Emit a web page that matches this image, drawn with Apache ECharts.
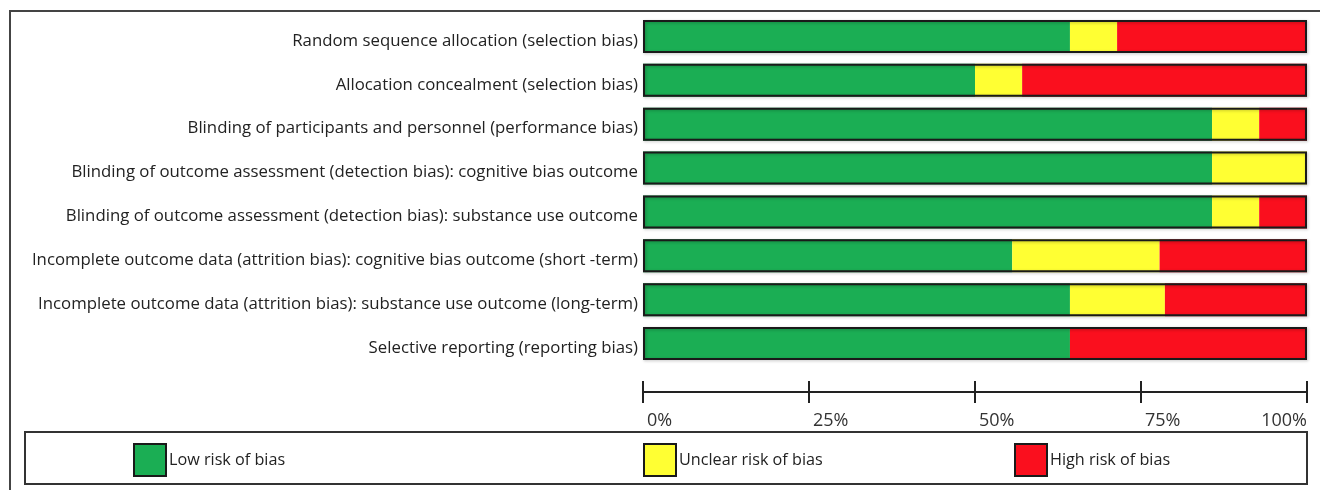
<!DOCTYPE html>
<html>
<head>
<meta charset="utf-8">
<script src="https://cdn.jsdelivr.net/npm/echarts@6/dist/echarts.min.js"></script>
<style>
html,body{margin:0;padding:0;background:#fff;}
#chart{width:1320px;height:490px;}
</style>
</head>
<body>
<div id="chart"></div>
<script>
const categories = [
  "Random sequence allocation (selection bias)",
  "Allocation concealment (selection bias)",
  "Blinding of participants and personnel (performance bias)",
  "Blinding of outcome assessment (detection bias): cognitive bias outcome",
  "Blinding of outcome assessment (detection bias): substance use outcome",
  "Incomplete outcome data (attrition bias): cognitive bias outcome (short -term)",
  "Incomplete outcome data (attrition bias): substance use outcome (long-term)",
  "Selective reporting (reporting bias)"
];
const lowRisk     = [64.3, 50.0, 85.7, 85.7, 85.7, 55.6, 64.3, 64.3];
const unclearRisk = [7.1, 7.1, 7.1, 14.3, 7.1, 22.2, 14.3, 0];
const highRisk    = [28.6, 42.9, 7.2, 0, 7.2, 22.2, 21.4, 35.7];
const tickLabels  = ["0%", "25%", "50%", "75%", "100%"];
const seriesNames = ["Low risk of bias", "Unclear risk of bias", "High risk of bias"];

const FONT = "Open Sans";
const colors = ["#1BAE54", "#FFFF33", "#FA0F1E"];
const totals = categories.map((c, i) => lowRisk[i] + unclearRisk[i] + highRisk[i]);

const chart = echarts.init(document.getElementById('chart'), null, {renderer: 'canvas'});
const BW = 33;
const seriesData = [lowRisk, unclearRisk, highRisk];

const series = seriesNames.map((name, k) => ({
  name: name,
  type: 'bar',
  stack: 'risk',
  barWidth: BW,
  barGap: '-100%',
  itemStyle: {color: colors[k]},
  data: seriesData[k],
  animation: false,
  silent: true
}));
series.push({
  name: 'outline',
  type: 'bar',
  barWidth: BW,
  barGap: '-100%',
  z: 5,
  itemStyle: {color: 'rgba(0,0,0,0)', borderColor: '#1a1a1a', borderWidth: 2,
              shadowColor: 'rgba(0,0,0,0.25)', shadowBlur: 3, shadowOffsetX: 1, shadowOffsetY: 1},
  data: totals,
  animation: false,
  silent: true
});

const legendLefts = [133, 643, 1014];
const legends = seriesNames.map((name, k) => ({
  data: [name],
  left: legendLefts[k],
  top: 443,
  itemWidth: 32,
  itemHeight: 32,
  itemGap: 0,
  icon: 'rect',
  padding: 0,
  selectedMode: false,
  itemStyle: {borderColor: '#1a1a1a', borderWidth: 2},
  textStyle: {fontFamily: FONT, fontSize: 16.2, color: '#222', padding: [0,0,0,-2]}
}));

const tickFmt = (v) => tickLabels[Math.round(v / 25)];

chart.setOption({
  animation: false,
  backgroundColor: '#fff',
  grid: {left: 643, right: 13, top: 14.5, height: 351, containLabel: false},
  xAxis: [{
    type: 'value', min: 0, max: 100, interval: 25, position: 'bottom', offset: 26.5,
    axisLine: {show: true, lineStyle: {color: '#222', width: 2}},
    axisTick: {show: true, inside: true, length: 11, lineStyle: {color: '#222', width: 2}},
    axisLabel: {show: true, formatter: tickFmt, margin: 20, fontFamily: FONT, fontSize: 18, color: '#333',
                align: 'left', padding: [0,0,0,4], alignMaxLabel: 'right'},
    splitLine: {show: false}
  }, {
    type: 'value', min: 0, max: 100, interval: 25, position: 'bottom', offset: 26.5,
    axisLine: {show: false},
    axisTick: {show: true, inside: false, length: 11, lineStyle: {color: '#222', width: 2}},
    axisLabel: {show: false},
    splitLine: {show: false}
  }],
  yAxis: {
    type: 'category', inverse: true, data: categories,
    axisLine: {show: false}, axisTick: {show: false},
    axisLabel: {fontFamily: FONT, fontSize: 16.8, color: '#222', margin: 5,
                verticalAlign: 'top', lineHeight: 9}
  },
  legend: legends,
  graphic: [
    {type: 'rect', shape: {x: 10, y: 11, width: 1400, height: 600},
     style: {fill: 'none', stroke: '#444', lineWidth: 2}, z: 0, silent: true},
    {type: 'rect', shape: {x: 25, y: 432, width: 1282, height: 52},
     style: {fill: 'none', stroke: '#333', lineWidth: 2}, z: 0, silent: true}
  ],
  series: series
});
</script>
</body>
</html>
